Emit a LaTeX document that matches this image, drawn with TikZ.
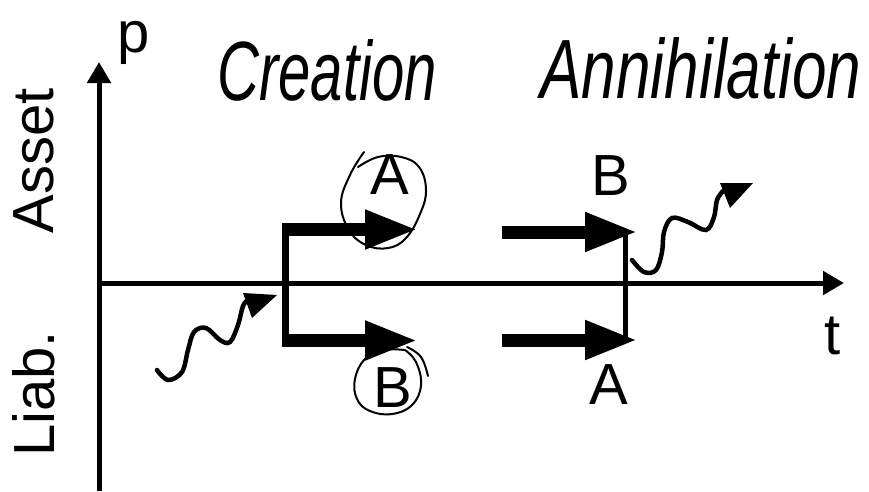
\documentclass[tikz,border=0pt]{standalone}
\usepackage{fontspec}
\setmainfont{Liberation Sans}
\usetikzlibrary{arrows.meta}
\begin{document}
\begin{tikzpicture}[x=1pt,y=-1pt,
  lbl/.style={font=\fontsize{58}{60}\selectfont, inner sep=0pt},
  hand/.style={font=\fontsize{58}{60}\selectfont\itshape, inner sep=0pt, yscale=1.45},
  axisline/.style={line width=5pt, -{Triangle[length=21pt,width=23pt]}},
  fat/.style={line width=13pt, -{Triangle[length=53pt,width=36pt]}},
  wave/.style={line width=4.5pt, line cap=round},
  ink/.style={line width=2pt, line cap=round}]
\useasboundingbox[fill=white] (0,0) rectangle (869,491);

% axes
\coordinate (pbot) at (99,491);
\coordinate (ptop) at (99,62);
\coordinate (tl) at (97,283);
\coordinate (tr) at (844,283);
\draw[axisline] (pbot) -- (ptop);
\draw[axisline] (tl) -- (tr);
\node[lbl] (p) at (134,43) {p};
\node[lbl] (t) at (833,336) {t};
\node[lbl, rotate=90] (asset) at (34,161) {Asset};
\node[lbl, rotate=90] (liab) at (34,394) {Liab.};

% headings
\node[hand] (cre) at (327,70) {Creation};
\node[hand, xscale=1.07] (ann) at (701,68) {Annihilation};

% creation
\coordinate (c1) at (285.5,223);
\coordinate (c2) at (285.5,347);
\coordinate (cs1) at (282,229.5);
\coordinate (ce1) at (418,229.5);
\coordinate (cs2) at (282,340.5);
\coordinate (ce2) at (418,340.5);
\draw[line width=7pt] (c1) -- (c2);
\draw[fat] (cs1) -- (ce1);
\draw[fat] (cs2) -- (ce2);
\node[lbl] (cA) at (390,175) {A};
\node[lbl] (cB) at (393,388) {B};
% hand circles
\draw[ink] plot[smooth, tension=0.7] coordinates {(364,152) (350,175) (341,203) (349,230) (366,245) (388,248) (406,238) (420,214) (426,190) (419,167) (401,157) (378,157) (358,167)};
\draw[ink] plot[smooth, tension=0.7] coordinates {(404,350) (384,350) (365,359) (355,379) (357,399) (370,411) (392,414) (412,405) (421,385) (416,362) (405,350)};
\draw[ink] plot[smooth, tension=0.7] coordinates {(407,347) (421,357) (428,376)};

% incoming wave
\draw[wave] plot[smooth, tension=0.6] coordinates {(157,370) (168,380) (182,372) (188,350) (194,332) (206,328) (220,340) (230,342) (238,325) (243,306) (248,300)};
\fill (243,293) -- (277,295) -- (252,318) -- cycle;

% annihilation
\coordinate (a1) at (625,232);
\coordinate (a2) at (625,340);
\coordinate (as1) at (502,232);
\coordinate (ae1) at (638,232);
\coordinate (as2) at (502,340);
\coordinate (ae2) at (638,340);
\draw[fat] (as1) -- (ae1);
\draw[fat] (as2) -- (ae2);
\draw[line width=5pt] (a1) -- (a2);
\node[lbl] (aB) at (611,176) {B};
\node[lbl] (aA) at (609,385) {A};

% outgoing wave
\draw[wave] plot[smooth, tension=0.6] coordinates {(632,260) (644,272) (656,270) (662,252) (664,232) (672,218) (688,222) (706,230) (714,217) (717,200) (723,191)};
\fill (720,183) -- (753,183) -- (730,208) -- cycle;
\end{tikzpicture}
\end{document}
